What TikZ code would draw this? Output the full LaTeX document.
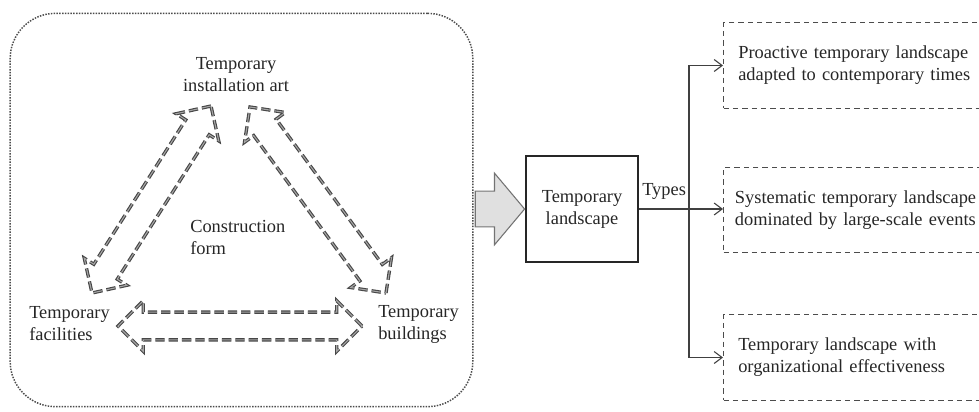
\documentclass[tikz,border=0pt]{standalone}
\usepackage{fontspec}
\setmainfont{Liberation Serif}
\usetikzlibrary{shapes.arrows,arrows.meta,calc,positioning}

\tikzset{
  lbl/.style={inner sep=0.75pt, text=black!85, font=\fontsize{13.8}{16.5}\selectfont},
  dblarrow/.style={double arrow, draw=black!72, double=black!35, double distance=0.8pt,
    line width=0.85pt, dash pattern=on 7pt off 3pt, inner xsep=0pt, inner ysep=10pt,
    double arrow head extend=8.5pt, double arrow tip angle=90},
  bigarrow/.style={single arrow, draw=black!55, fill=black!12, line width=0.8pt, inner xsep=0pt,
    inner ysep=13pt, minimum height=37pt, single arrow head extend=13.5pt, single arrow tip angle=100},
  typebox/.style={lbl, draw=black!70, line width=0.9pt, dash pattern=on 4pt off 3pt, anchor=west,
    minimum height=64pt, text width=195pt, inner xsep=11pt, align=left},
  link/.style={draw=black!75, line width=0.8pt, -{Straight Barb[length=6pt,width=9pt]}}
}

% block arrow with two heads, tip to tip
\newcommand{\dblink}[2]{%
  \path let \p1=($(#2)-(#1)$), \n1={veclen(\x1,\y1)}, \n2={atan2(\y1,\x1)} in
    node[dblarrow, minimum height=\n1, rotate=-\n2] at ($(#1)!0.5!(#2)$) {};}

\begin{document}
\begin{tikzpicture}[x=0.75pt,y=0.75pt,yscale=-1,xscale=1]
\useasboundingbox (0,0) rectangle (979,411);
\clip (0,0) rectangle (979,411);

%Rounded frame
\node[draw=black!70, line width=1.1pt, densely dotted, rounded corners=34pt,
  minimum width=347pt, minimum height=295pt] (frame) at (241.5,210) {};

% Text Node
\node[lbl, align=center] (art) at (236,75) {Temporary\\installation art};
% Text Node
\node[lbl, align=left, anchor=west] (form) at (189,237) {Construction\\form};
% Text Node
\node[lbl, align=left, anchor=west] (fac) at (28,324) {Temporary\\facilities};
% Text Node
\node[lbl, align=left, anchor=west] (bld) at (377,324) {Temporary\\buildings};

%Block arrows
\coordinate (fac-tip) at (92,293);
\coordinate (art-tipl) at (211,106);
\coordinate (art-tipr) at (250,107);
\coordinate (bld-tip) at (386,293);
\coordinate (fac-tipb) at (118,326);
\coordinate (bld-tipb) at (362,326);
\dblink{fac-tip}{art-tipl}
\dblink{art-tipr}{bld-tip}
\dblink{fac-tipb}{bld-tipb}

%Landscape box
\node[lbl, draw=black!85, line width=1.1pt, minimum width=84pt, minimum height=79.5pt,
  align=center] (land) at (582,209) {Temporary\\landscape};
\node[bigarrow, anchor=tip] (push) at (land.west) {};
% Text Node
\node[lbl, anchor=west] (types) at (641,191) {Types};

%Types
\node[typebox] (t1) at (723,65.5) {Proactive temporary landscape\\adapted to contemporary times};
\node[typebox, inner xsep=8.5pt] (t2) at (723,210) {Systematic temporary landscape\\dominated by large-scale events};
\node[typebox] (t3) at (723,357.5) {Temporary landscape with\\organizational effectiveness};

\coordinate (bus) at (689,212);
\draw[link] (land.east) -- (land.east -| t2.west);
\draw[link] (bus) |- (t1.west);
\draw[link] (bus) |- (t3.west);

\end{tikzpicture}
\end{document}
